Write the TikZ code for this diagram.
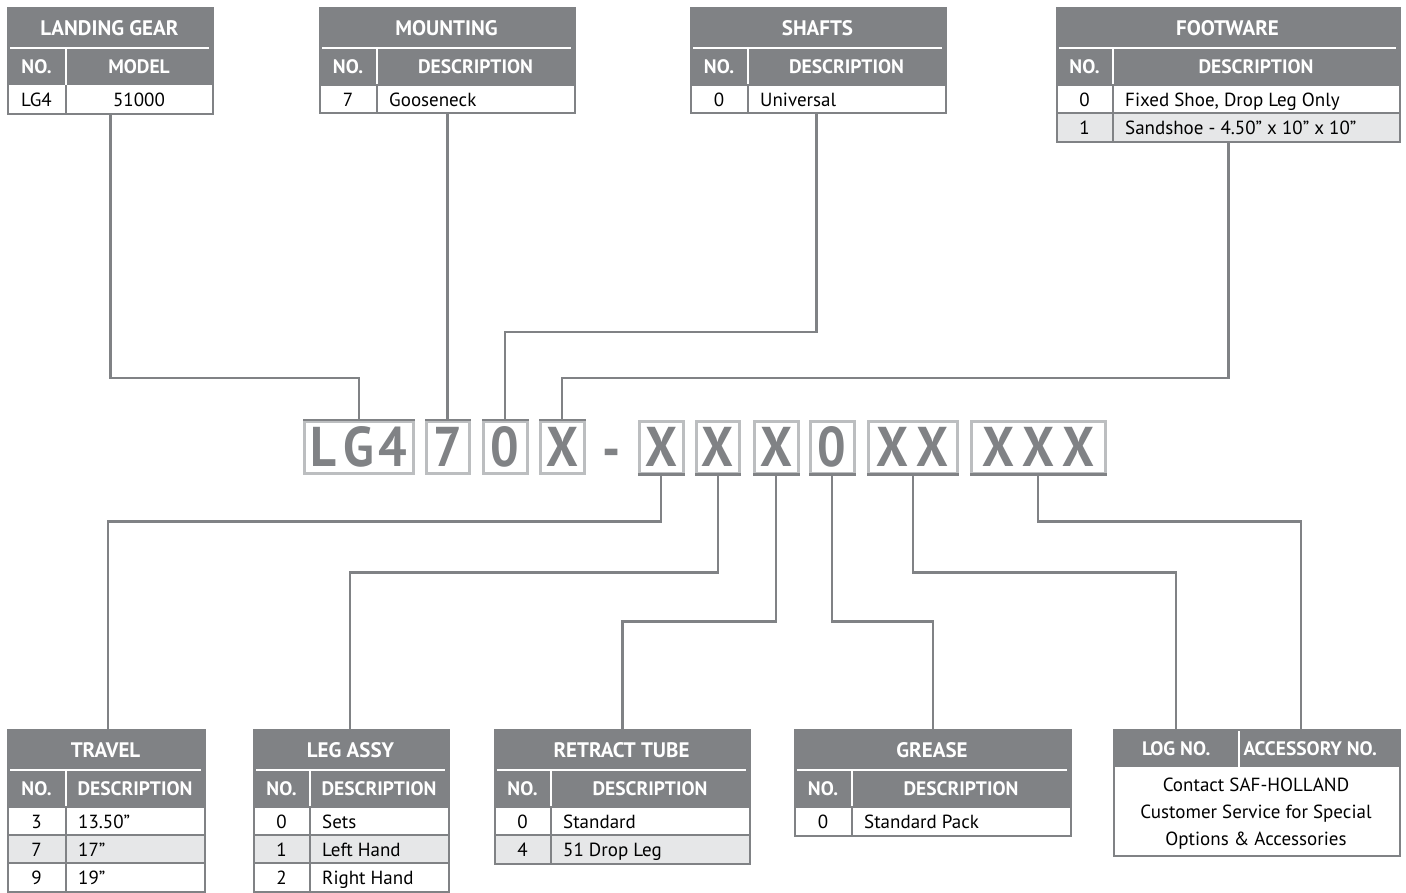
\documentclass[tikz,border=0pt]{standalone}
\usepackage{fontspec}
\setmainfont{PT Sans}
\usetikzlibrary{calc}
\definecolor{hdr}{HTML}{808285}
\definecolor{lite}{HTML}{E6E7E8}
\definecolor{codeln}{HTML}{BCBEC0}
\tikzset{
  titletext/.style={text=white, font=\bfseries\fontsize{21}{24}\selectfont, inner sep=0},
  subtext/.style={text=white, font=\bfseries\fontsize{19.5}{22}\selectfont, inner sep=0},
  celltext/.style={text=black, font=\fontsize{19}{22}\selectfont, inner sep=0},
  tblframe/.style={draw=hdr, line width=2pt, inner sep=0, anchor=north west},
  conn/.style={draw=hdr, line width=2.3pt},
  codefont/.style={text=hdr, font=\bfseries\fontsize{56}{60}\selectfont\addfontfeature{FakeStretch=0.9}},
  codebox/.style={codefont, draw=codeln, line width=2.5pt, inner sep=0, anchor=north west, minimum height=52pt},
  codeedge/.style={draw=hdr, line width=2.5pt},
}
\newcommand\mycode[1]{\makebox[0pt]{#1}}
% header: name, xl, xd, xr, top, title, col2
\newcommand\mytblhead[7]{%
  \fill[hdr] (#2,#5) rectangle (#4,#5+78);
  \draw[white,line width=1.6pt] (#2+3,#5+41) -- (#4-3,#5+41);
  \draw[white,line width=1.6pt] (#3,#5+41) -- (#3,#5+78);
  \node[titletext] (#1-t) at ({(#2+#4)/2},#5+21) {#6};
  \node[subtext] (#1-n) at ({(#2+#3)/2},#5+60) {NO.};
  \node[subtext] (#1-d) at ({(#3+#4)/2},#5+60) {#7};
}
% row: name, xl, xd, xr, top, fill, no, desc
\newcommand\mytblrow[8]{%
  \fill[#6] (#2,#5) rectangle (#4,#5+28);
  \draw[hdr,line width=1.5pt] (#2,#5) -- (#4,#5);
  \draw[hdr,line width=1.5pt] (#3,#5) -- (#3,#5+28);
  \node[celltext, anchor=base] (#1-no) at ({(#2+#3)/2},#5+21) {#7};
  \node[celltext, anchor=base west] (#1-de) at (#3+12,#5+21) {#8};
}
% frame: name, xl, xr, top, bottom
\newcommand\mytblframe[5]{%
  \node[tblframe, minimum width={(#3-#2)*1pt}, minimum height={(#5-#4)*1pt}] (#1) at (#2,#4) {};
}
\begin{document}
\begin{tikzpicture}[x=1pt,y=-1pt]
\useasboundingbox[fill=white] (0,0) rectangle (1406,892);

% ---------- top tables ----------
\mytblhead{lg}{7}{66}{212}{7}{LANDING GEAR}{MODEL}
\fill[white] (7,85) rectangle (212,113);
\draw[hdr,line width=1.5pt] (66,85) -- (66,113);
\node[celltext, anchor=base] (lg-r1-no) at (36.5,106) {LG4};
\node[celltext, anchor=base] (lg-r1-de) at (139,106) {51000};
\mytblframe{lg}{7}{212}{7}{113}

\mytblhead{mt}{319}{377}{574}{7}{MOUNTING}{DESCRIPTION}
\mytblrow{mt-r1}{319}{377}{574}{85}{white}{7}{Gooseneck}
\mytblframe{mt}{319}{574}{7}{112}

\mytblhead{sh}{690}{748}{945}{7}{SHAFTS}{DESCRIPTION}
\mytblrow{sh-r1}{690}{748}{945}{85}{white}{0}{Universal}
\mytblframe{sh}{690}{945}{7}{112}

\mytblhead{fw}{1056}{1113}{1399}{7}{FOOTWARE}{DESCRIPTION}
\mytblrow{fw-r1}{1056}{1113}{1399}{85}{white}{0}{Fixed Shoe, Drop Leg Only}
\mytblrow{fw-r2}{1056}{1113}{1399}{113}{lite}{1}{Sandshoe - 4.50” x 10” x 10”}
\mytblframe{fw}{1056}{1399}{7}{141}

% ---------- bottom tables ----------
\mytblhead{tr}{7}{66}{204}{729}{TRAVEL}{DESCRIPTION}
\mytblrow{tr-r1}{7}{66}{204}{807}{white}{3}{13.50”}
\mytblrow{tr-r2}{7}{66}{204}{835}{lite}{7}{17”}
\mytblrow{tr-r3}{7}{66}{204}{863}{white}{9}{19”}
\mytblframe{tr}{7}{204}{729}{891}

\mytblhead{la}{253}{310}{448}{729}{LEG ASSY}{DESCRIPTION}
\mytblrow{la-r1}{253}{310}{448}{807}{white}{0}{Sets}
\mytblrow{la-r2}{253}{310}{448}{835}{lite}{1}{Left Hand}
\mytblrow{la-r3}{253}{310}{448}{863}{white}{2}{Right Hand}
\mytblframe{la}{253}{448}{729}{891}

\mytblhead{rt}{494}{551}{749}{729}{RETRACT TUBE}{DESCRIPTION}
\mytblrow{rt-r1}{494}{551}{749}{807}{white}{0}{Standard}
\mytblrow{rt-r2}{494}{551}{749}{835}{lite}{4}{51 Drop Leg}
\mytblframe{rt}{494}{749}{729}{863}

\mytblhead{gr}{794}{852}{1070}{729}{GREASE}{DESCRIPTION}
\mytblrow{gr-r1}{794}{852}{1070}{807}{white}{0}{Standard Pack}
\mytblframe{gr}{794}{1070}{729}{835}

% log / accessory box
\fill[hdr] (1113,729) rectangle (1399,767);
\draw[white,line width=1.6pt] (1239,731) -- (1239,767);
\node[subtext, minimum width=126pt, minimum height=38pt, anchor=north west] (logno) at (1113,729) {LOG NO.};
\node[subtext, minimum width=142pt, minimum height=38pt, anchor=north west] (accno) at (1239,729) {ACCESSORY NO.};
\node[celltext, align=center, font=\fontsize{19}{27}\selectfont] (logtxt) at (1256,814) {Contact SAF-HOLLAND\\Customer Service for Special\\Options \& Accessories};
\mytblframe{lb}{1113}{1399}{729}{855}

% ---------- code boxes ----------
\node[codebox, minimum width=109pt] (c1) at (303,420) {\mycode{L\kern7pt G\kern5pt 4}};
\node[codebox, minimum width=43pt] (c2) at (425,420) {\mycode{7}};
\node[codebox, minimum width=44pt] (c3) at (482,420) {\mycode{0}};
\node[codebox, minimum width=44pt] (c4) at (539,420) {\mycode{X}};
\node[codefont, inner sep=0, anchor=base] (dash) at (612,468) {-};
\node[codebox, minimum width=44pt] (d1) at (638,420) {\mycode{X}};
\node[codebox, minimum width=43pt] (d2) at (695,420) {\mycode{X}};
\node[codebox, minimum width=44pt] (d3) at (753,420) {\mycode{X}};
\node[codebox, minimum width=44pt] (d4) at (809,420) {\mycode{0}};
\node[codebox, minimum width=89pt] (d5) at (867,420) {\mycode{X\kern8pt X}};
\node[codebox, minimum width=134pt] (d6) at (970,420) {\mycode{X\kern8pt X\kern8pt X}};
\foreach \n in {c1,c2,c3,c4} \draw[codeedge] (\n.north west) -- (\n.north east);
\foreach \n in {d1,d2,d3,d4,d5,d6} \draw[codeedge] (\n.south west) -- (\n.south east);

% ---------- connectors ----------
\draw[conn] (lg.south) -- ++(0,263) -| (c1.north);
\draw[conn] (mt.south) -- (mt.south |- c2.north);
\draw[conn] ([xshift=-2pt]sh.south) -- ++(0,218) -| (c3.north);
\draw[conn] (fw.south) -- ++(0,235) -| (c4.north);

\draw[conn] (d1.south) -- ++(0,47) -| ([xshift=1.5pt]tr.north);
\draw[conn] (d2.south) -- ++(0,98) -| ([xshift=-1.5pt]la.north);
\draw[conn] (d3.south) -- ++(0,147) -| (rt.north);
\draw[conn] (d4.south) -- ++(0,147) -| (gr.north);
\draw[conn] (d5.south) -- ++(0,98) -| (logno.north);
\draw[conn] (d6.south) -- ++(0,47) -| ([xshift=-9pt]accno.north);
\end{tikzpicture}
\end{document}
